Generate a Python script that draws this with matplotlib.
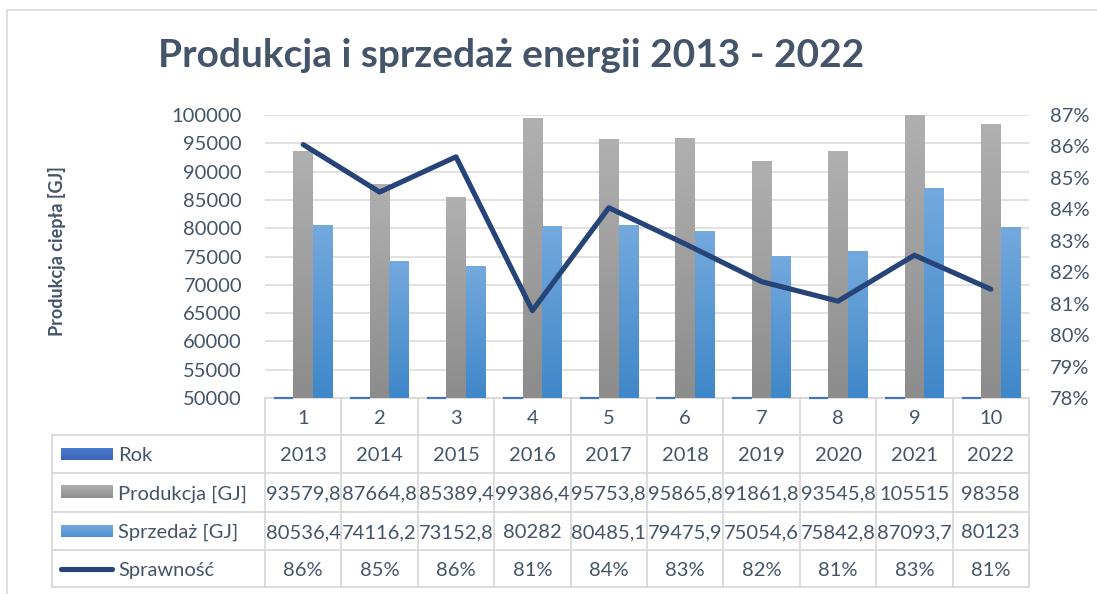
import numpy as np
import matplotlib
matplotlib.use('Agg')
import matplotlib.pyplot as plt
from matplotlib.colors import LinearSegmentedColormap
from matplotlib.patches import Rectangle
from matplotlib.ticker import FuncFormatter, MultipleLocator

# ---------------- data ----------------
categories = [1, 2, 3, 4, 5, 6, 7, 8, 9, 10]
rok = [2013, 2014, 2015, 2016, 2017, 2018, 2019, 2020, 2021, 2022]
produkcja = [93579.8, 87664.8, 85389.4, 99386.4, 95753.8, 95865.8, 91861.8, 93545.8, 105515, 98358]
sprzedaz = [80536.4, 74116.2, 73152.8, 80282, 80485.1, 79475.9, 75054.6, 75842.8, 87093.7, 80123]
sprawnosc = [0.8606, 0.8455, 0.8567, 0.8078, 0.8405, 0.8290, 0.8170, 0.8108, 0.8254, 0.8146]
series_labels = ["Rok", "Produkcja [GJ]", "Sprzedaż [GJ]", "Sprawność"]
title = "Produkcja i sprzedaż energii 2013 - 2022"
ylabel = "Produkcja ciepła [GJ]"

# ---------------- style ----------------
plt.rcParams['font.family'] = ['Lato', 'DejaVu Sans']
TXT = '#44546A'
GRID = '#D9D9D9'
LINE = '#264478'
W, H = 1097, 594
AX_L, AX_R, AX_T, AX_B = 265, 1029, 115, 398
Y0, Y1 = 50000, 100000


def ay(py):
    return (AX_B - py) / (AX_B - AX_T)


def axx(px):
    return (px - AX_L) / (AX_R - AX_L)


fig = plt.figure(figsize=(W / 100, H / 100), dpi=100)
fig.patch.set_facecolor('white')
ax = fig.add_axes([AX_L / W, 1 - AX_B / H, (AX_R - AX_L) / W, (AX_B - AX_T) / H])
ax.set_facecolor('none')

x = np.array(categories, dtype=float)
bw = 0.255

# Rok bars (values below axis minimum -> drawn as flat bars at the axis)
rok_vis = np.clip(np.array(rok, dtype=float), Y0, None) - Y0
ax.bar(x - bw, rok_vis, width=bw, bottom=Y0, color='#4472C4',
       edgecolor='#4472C4', linewidth=1.6, zorder=3, clip_on=False)

prod_bars = ax.bar(x, produkcja, width=bw, color='none', edgecolor='none', zorder=2)
sprz_bars = ax.bar(x + bw, sprzedaz, width=bw, color='none', edgecolor='none', zorder=2)


def gradient(container, top_color, bottom_color):
    cmap = LinearSegmentedColormap.from_list('g', [bottom_color, top_color])
    grad = np.linspace(0, 1, 256).reshape(-1, 1)
    for p in container.patches:
        x0, w = p.get_x(), p.get_width()
        y0 = max(p.get_y(), Y0)
        y1 = min(p.get_y() + p.get_height(), Y1)
        ax.imshow(grad, cmap=cmap, extent=(x0, x0 + w, y0, y1), origin='lower',
                  aspect='auto', zorder=2, interpolation='bilinear')


gradient(prod_bars, '#B0B0B0', '#8C8C8C')
gradient(sprz_bars, '#74A9DD', '#3F87C9')

ax.set_xlim(0.5, 10.5)
ax.set_ylim(Y0, Y1)
ax.set_aspect('auto')
ax.yaxis.set_major_locator(MultipleLocator(5000))
ax.grid(axis='y', color=GRID, linewidth=1.1, zorder=0)
ax.set_axisbelow(True)
for s in ax.spines.values():
    s.set_visible(False)
ax.tick_params(axis='x', bottom=False, labelbottom=False)
ax.tick_params(axis='y', length=0, pad=16.5, labelsize=14.5, labelcolor=TXT)

# secondary axis with efficiency line
ax2 = ax.twinx()
ax2.plot(x, sprawnosc, color=LINE, linewidth=3.7, solid_capstyle='round',
         solid_joinstyle='round', zorder=5)
ax2.set_ylim(0.78, 0.87)
ax2.yaxis.set_major_locator(MultipleLocator(0.01))
ax2.yaxis.set_major_formatter(FuncFormatter(lambda v, p: f"{round(v * 100)}%"))
for s in ax2.spines.values():
    s.set_visible(False)
ax2.tick_params(axis='y', length=0, pad=15, labelsize=14.5, labelcolor=TXT)
ax2.set_xlim(0.5, 10.5)

# ---------------- data table ----------------
bt = ax.get_xaxis_transform()
TL = dict(color=GRID, linewidth=1.3, clip_on=False, zorder=1)
rows_px = [398, 435, 473, 512, 550, 587]
left_px = 52
# horizontal lines
ax.plot([0.5, 10.5], [ay(398)] * 2, transform=bt, **TL)
for py in rows_px[1:]:
    ax.plot([axx(left_px), 1.0], [ay(py)] * 2, transform=ax.transAxes, **TL)
# vertical lines
for b in np.arange(0.5, 11.0, 1.0):
    ax.plot([b, b], [ay(398), ay(587)], transform=bt, **TL)
ax.plot([axx(left_px)] * 2, [ay(435), ay(587)], transform=ax.transAxes, **TL)

FS = 14.5


def fmt_num(v):
    return f"{v:g}".replace('.', ',')


row_cells = [
    [str(c) for c in categories],
    [str(r) for r in rok],
    [fmt_num(v) for v in produkcja],
    [fmt_num(v) for v in sprzedaz],
    [f"{round(v * 100)}%" for v in sprawnosc],
]
for ri, cells in enumerate(row_cells):
    ctr = (rows_px[ri] + rows_px[ri + 1]) / 2
    for xi, s in zip(x, cells):
        ax.text(xi, ay(ctr + 7.2), s, transform=bt, ha='center', va='baseline',
                fontsize=FS, color=TXT, clip_on=False)

# legend keys in table
for ri, lab in enumerate(series_labels):
    ctr = (rows_px[ri + 1] + rows_px[ri + 2]) / 2
    ax.text(axx(118), ay(ctr + 7.2), lab, transform=ax.transAxes, ha='left',
            va='baseline', fontsize=FS, color=TXT, clip_on=False)
key_cols = [('#4B7BD0', '#3A66B8'), ('#B0B0B0', '#8E8E8E'), ('#74A9DD', '#4E92D2')]
for ri, (c_top, c_bot) in enumerate(key_cols):
    ctr = (rows_px[ri + 1] + rows_px[ri + 2]) / 2
    cmap = LinearSegmentedColormap.from_list('k', [c_bot, c_top])
    ax.imshow(np.linspace(0, 1, 64).reshape(-1, 1), cmap=cmap, origin='lower',
              extent=(axx(61), axx(113), ay(ctr + 6), ay(ctr - 6)),
              transform=ax.transAxes, aspect='auto', clip_on=False, zorder=3)
ctr = (rows_px[4] + rows_px[5]) / 2
ax.plot([axx(61), axx(112)], [ay(ctr)] * 2, transform=ax.transAxes, color=LINE,
        linewidth=3.7, solid_capstyle='round', clip_on=False, zorder=3)

ax.set_xlim(0.5, 10.5)
ax.set_ylim(Y0, Y1)

# ---------------- titles ----------------
fig.text(511 / W, 1 - 67 / H, title, ha='center', va='baseline', fontsize=28,
         fontweight='bold', color=TXT)
fig.text(57 / W, 1 - 251 / H, ylabel, ha='center', va='center', rotation=90,
         fontsize=13, fontweight='bold', color=TXT)

# chart border
fig.patches.append(Rectangle((7 / W, -0.5), 2, 1 - 9.5 / H + 0.5, transform=fig.transFigure,
                             fill=False, edgecolor=GRID, linewidth=1.2))

fig.savefig('out.png', dpi=100)
